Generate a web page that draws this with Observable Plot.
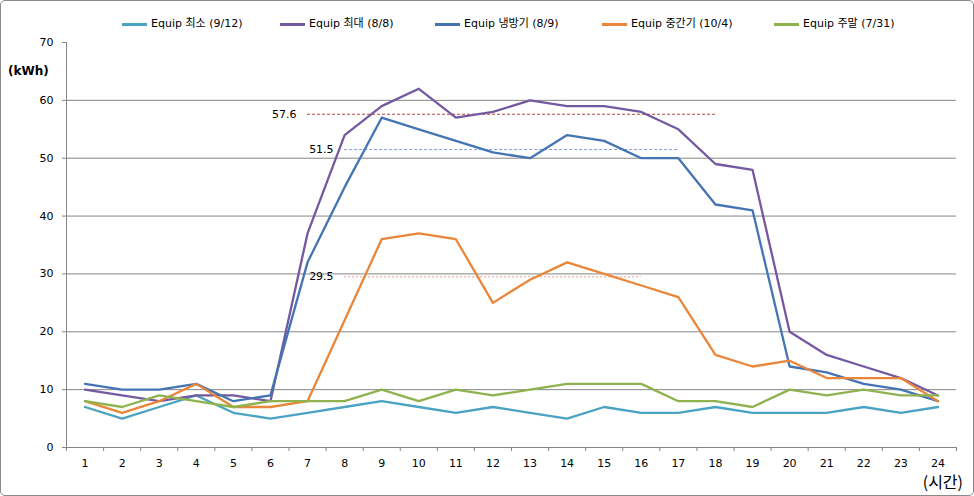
<!DOCTYPE html>
<html><head><meta charset="utf-8">
<script src="https://cdn.jsdelivr.net/npm/d3@7"></script>
<script src="https://cdn.jsdelivr.net/npm/@observablehq/plot@0.6"></script>
<style>
body{margin:0;background:#fff;}
#wrap{position:relative;width:974px;height:496px;font-family:"DejaVu Sans","Noto Sans CJK KR",sans-serif;overflow:hidden;background:#fff}
#border{position:absolute;left:0;top:0;width:972px;height:494px;border:1px solid #8a8a8a;border-radius:5px;pointer-events:none}
#legend{position:relative;height:34px}
.item{position:absolute;top:16px;height:16px;line-height:16px;display:flex;align-items:center;font-size:11px;color:#000;white-space:nowrap}
.sw{width:25px;height:3px;margin-right:4px}
.unit{position:absolute;font-size:12px;color:#000}
</style></head>
<body>
<div id="wrap">
  <div id="legend"></div>
  <div id="chart"></div>
  <div class="unit" id="ylab" style="left:8px;top:64px;font-weight:bold"></div>
  <div class="unit" id="xlab" style="right:11px;top:470px;font-size:16px;line-height:23px;font-family:'Noto Sans CJK KR',sans-serif"></div>
  <div id="border"></div>
</div>
<script>
// ---- data ----
const hours = [1,2,3,4,5,6,7,8,9,10,11,12,13,14,15,16,17,18,19,20,21,22,23,24];
const seriesNames = ["Equip 최소 (9/12)", "Equip 최대 (8/8)", "Equip 냉방기 (8/9)", "Equip 중간기 (10/4)", "Equip 주말 (7/31)"];
const minValues    = [7,5,7,9,6,5,6,7,8,7,6,7,6,5,7,6,6,7,6,6,6,7,6,7];
const maxValues    = [10,9,8,9,9,8,37,54,59,62,57,58,60,59,59,58,55,49,48,20,16,14,12,9];
const coolValues   = [11,10,10,11,8,9,32,45,57,55,53,51,50,54,53,50,50,42,41,14,13,11,10,8];
const midValues    = [8,6,8,11,7,7,8,22,36,37,36,25,29,32,30,28,26,16,14,15,12,12,12,8];
const weekendValues= [8,7,9,8,7,8,8,8,10,8,10,9,10,11,11,11,8,8,7,10,9,10,9,9];
const seriesColors = ["#4BA3C3", "#7559A0", "#4474B4", "#EA8639", "#8FB24F"];
const yTicks = [0,10,20,30,40,50,60,70];
const gridValues = [10,20,30,40,50,60];
const refValues = [57.6, 51.5, 29.5];
const refStart  = [7, 8, 8];
const refEnd    = [18, 17, 16];
const refColors = ["#B0443E", "#7F9ED8", "#E89A9A"];
const refDash   = ["3,2", "3,2", "2,2"];
const yUnit = "(kWh)";
const xUnit = "(시간)";

// ---- build ----
const allValues = [minValues, maxValues, coolValues, midValues, weekendValues];
const rows = [];
seriesNames.forEach((s, i) => hours.forEach((h, j) => rows.push({series: s, hour: h, value: allValues[i][j]})));
const refs = refValues.map((v, i) => ({value: v, x1: refStart[i], x2: refEnd[i]}));
const xDomain = [hours[0] - 0.5, hours[hours.length - 1] + 0.5];
const boundaries = [...hours.map(h => h - 0.5), hours[hours.length - 1] + 0.5];

const legend = document.getElementById("legend");
const legendLeft = [122, 280, 435, 602, 774];
seriesNames.forEach((s, i) => {
  const it = document.createElement("div");
  it.className = "item";
  it.style.left = legendLeft[i] + "px";
  it.innerHTML = `<span class="sw" style="background:${seriesColors[i]}"></span><span>${s}</span>`;
  legend.appendChild(it);
});
document.getElementById("ylab").textContent = yUnit;
document.getElementById("xlab").textContent = xUnit;

const refMarks = refs.map((r, i) => Plot.ruleY([r], {y: "value", x1: "x1", x2: "x2", stroke: refColors[i], strokeDasharray: refDash[i], strokeWidth: 1}));

const plot = Plot.plot({
  width: 974, height: 462,
  marginLeft: 66, marginRight: 18, marginTop: 8, marginBottom: 49,
  style: {fontFamily: '"DejaVu Sans","Noto Sans CJK KR",sans-serif', fontSize: "11px", color: "#000", background: "transparent", overflow: "visible"},
  x: {type: "linear", domain: xDomain},
  y: {domain: [yTicks[0], yTicks[yTicks.length - 1]]},
  color: {domain: seriesNames, range: seriesColors},
  marks: [
    Plot.ruleY(gridValues, {stroke: "#868686", strokeWidth: 1}),
    Plot.ruleX([xDomain[0]], {stroke: "#868686"}),
    Plot.ruleY([yTicks[0]], {stroke: "#868686"}),
    Plot.axisY({ticks: yTicks, tickSize: 4, tickPadding: 9, stroke: "#868686", label: null, fill: "#000"}),
    Plot.axisX({ticks: boundaries, tickSize: 4, tickFormat: () => "", stroke: "#868686", label: null}),
    Plot.axisX({ticks: hours, tickSize: 0, tickPadding: 12, tickFormat: d => String(d), label: null, fill: "#000"}),
    ...refMarks,
    Plot.lineY(rows, {x: "hour", y: "value", z: "series", stroke: "series", strokeWidth: 2.3, strokeLinejoin: "round", strokeLinecap: "round"}),
    Plot.text(refs, {x: "x1", y: "value", text: d => d3.format(".1f")(d.value), textAnchor: "end", dx: -11, fill: "#000", fontSize: 11})
  ]
});
document.getElementById("chart").appendChild(plot);
</script>
</body></html>
